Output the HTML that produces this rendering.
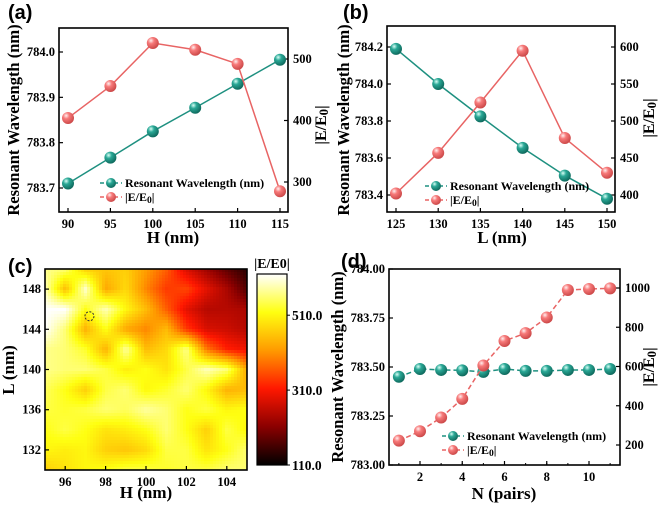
<!DOCTYPE html>
<html><head><meta charset="utf-8"><style>
body{margin:0;background:#fff;}
svg{display:block;font-family:"Liberation Serif",serif;font-weight:bold;}
.pl{font-family:"Liberation Sans",sans-serif;font-weight:bold;font-size:20px;}
</style></head><body>
<svg id="s" width="664" height="508" viewBox="0 0 664 508" xmlns="http://www.w3.org/2000/svg">
<defs>
<radialGradient id="gt" cx="0.35" cy="0.3" r="0.75"><stop offset="0" stop-color="#d8fff6"/><stop offset="0.35" stop-color="#2aa896"/><stop offset="1" stop-color="#0c6458"/></radialGradient>
<radialGradient id="gr" cx="0.35" cy="0.3" r="0.75"><stop offset="0" stop-color="#fff0f0"/><stop offset="0.35" stop-color="#f77a7a"/><stop offset="1" stop-color="#c84444"/></radialGradient>
<linearGradient id="cb" x1="0" y1="1" x2="0" y2="0">
<stop offset="0" stop-color="#000"/><stop offset="0.2" stop-color="#8a0000"/><stop offset="0.4" stop-color="#ff1800"/><stop offset="0.6" stop-color="#ff9a00"/><stop offset="0.8" stop-color="#ffff10"/><stop offset="1" stop-color="#ffffff"/></linearGradient>
<clipPath id="hc"><rect x="45" y="269" width="202" height="201"/></clipPath>
</defs>
<g id="root"></g>
</svg>
<script>
// Panel (a)
const aH=[90,95,100,105,110,115];
const aWave=[783.71,783.767,783.825,783.877,783.93,783.983];
const aE=[404,456,526,515,492,285];
const aLeftTicks=["783.7","783.8","783.9","784.0"];
const aRightTicks=[300,400,500];
// Panel (b)
const bL=[125,130,135,140,145,150];
const bWave=[784.19,784.0,783.825,783.655,783.505,783.38];
const bE=[402,457,525,595,477,430];
const bLeftTicks=["783.4","783.6","783.8","784.0","784.2"];
const bRightTicks=[400,450,500,550,600];
// Panel (c) heatmap: rows L=150..130 (step 2), cols H=95..105
const cH=[95,96,97,98,99,100,101,102,103,104,105];
const cL=[150,148,146,144,142,140,138,136,134,132,130];
const cVals=[
[570,560,470,460,470,420,370,280,230,180,140],
[590,450,600,430,480,400,340,350,290,240,170],
[620,620,520,590,510,450,370,290,250,250,240],
[620,560,440,520,430,400,450,340,280,270,250],
[570,560,530,440,580,450,480,570,390,320,300],
[570,560,560,540,500,520,490,540,590,560,430],
[550,520,470,540,560,510,530,560,510,440,450],
[540,530,540,560,550,580,560,520,540,510,520],
[520,540,520,490,500,520,560,520,470,540,510],
[510,500,510,470,460,480,540,540,490,520,560],
[470,490,510,520,540,540,530,540,540,560,560]];
const cXTicks=[96,98,100,102,104];
const cYTicks=[132,136,140,144,148];
const cbTicks=["110.0","310.0","510.0"];
// Panel (d)
const dN=[1,2,3,4,5,6,7,8,9,10,11];
const dWave=[783.45,783.49,783.485,783.483,783.475,783.49,783.48,783.48,783.485,783.485,783.49];
const dE=[222,270,340,435,605,730,770,850,990,995,998];
const dLeftTicks=["783.00","783.25","783.50","783.75","784.00"];
const dRightTicks=[200,400,600,800,1000];
const dXTicks=[2,4,6,8,10];

const NS="http://www.w3.org/2000/svg";
const root=document.getElementById('root');
function el(t,a,p){const e=document.createElementNS(NS,t);for(const k in a)e.setAttribute(k,a[k]);(p||root).appendChild(e);return e;}
function txt(x,y,s,size,anchor,p,rot){const e=el('text',{x:x,y:y,'font-size':size,'text-anchor':anchor||'middle'},p);if(rot)e.setAttribute('transform',`rotate(${rot} ${x} ${y})`);e.textContent=s;return e;}
function lin(d0,d1,r0,r1){return v=>r0+(v-d0)/(d1-d0)*(r1-r0);}
function eLabel(x,y,size,p,anchor){const t=el('text',{x:x,y:y,'font-size':size,'text-anchor':anchor||'start'},p);t.innerHTML='|E/E<tspan font-size="'+(size*0.8)+'" dy="2">0</tspan><tspan dy="-2">|</tspan>';return t;}

function box(x0,y0,x1,y1,g){el('rect',{x:x0,y:y0,width:x1-x0,height:y1-y0,fill:'none',stroke:'#000','stroke-width':1.6},g);}
function series(xs,ys,fx,fy,color,grad,r,dash,g,name){
  const sg=el('g',{},g);
  
  
  const pts=xs.map((x,i)=>fx(x)+','+fy(ys[i])).join(' ');
  const pl=el('polyline',{points:pts,fill:'none',stroke:color,'stroke-width':1.5},sg);
  if(dash)pl.setAttribute('stroke-dasharray',dash);
  xs.forEach((x,i)=>{const c=el('circle',{cx:fx(x),cy:fy(ys[i]),r:r,fill:'url(#'+grad+')'},sg);
    
    });
}
function legend(x,y,g){
  const lg=el('g',{},g);
  
  
  [['#1e9080','gt','Resonant Wavelength (nm)'],['#e86464','gr',null]].forEach((it,i)=>{
    const yy=y+i*14;
    el('line',{x1:x,y1:yy,x2:x+22,y2:yy,stroke:it[0],'stroke-width':1.5,'stroke-dasharray':'4,3'},lg);
    el('circle',{cx:x+11,cy:yy,r:5,fill:'url(#'+it[1]+')'},lg);
    if(it[2])txt(x+25,yy+4,it[2],12,'start',lg);else eLabel(x+25,yy+4,12,lg);
  });
}
function tickLeft(x,y,lab,g){el('line',{x1:x,y1:y,x2:x+4,y2:y,stroke:'#000','stroke-width':1.2},g);txt(x-4,y+4,lab,12.5,'end',g);}
function tickRight(x,y,lab,g){el('line',{x1:x,y1:y,x2:x-4,y2:y,stroke:'#000','stroke-width':1.2},g);txt(x+5,y+4,lab,12.5,'start',g);}
function tickBot(x,y,lab,g){el('line',{x1:x,y1:y,x2:x,y2:y-4,stroke:'#000','stroke-width':1.2},g);txt(x,y+16,lab,12.5,'middle',g);}

// ---- Panel a
(function(){
  const g=el('g',{});
  const X0=59,X1=288,Y0=28,Y1=212;
  const fx=lin(90,115,68,280), fy=lin(783.7,784.0,188,52), fr=lin(300,500,182,59);
  txt(8,19,'(a)',20,'start',g).setAttribute('class','pl');
  box(X0,Y0,X1,Y1,g);
  aH.forEach(v=>tickBot(fx(v),Y1,v,g));
  aLeftTicks.forEach(v=>tickLeft(X0,fy(+v),v,g));
  aRightTicks.forEach(v=>tickRight(X1,fr(v),v,g));
  txt(173,243,'H (nm)',17,'middle',g);
  txt(19,120,'Resonant Wavelength (nm)',16.5,'middle',g,-90);
  eLabel(326,125,16,g,'middle').setAttribute('transform','rotate(-90 326 125)');
  series(aH,aWave,fx,fy,'#1e9080','gt',6,null,g,'wavelength-series');
  series(aH,aE,fx,fr,'#e86464','gr',6,null,g,'field-series');
  legend(100,183,g);
})();
// ---- Panel b
(function(){
  const g=el('g',{});
  const X0=387,X1=615,Y0=26,Y1=212;
  const fx=lin(125,150,396,607), fy=lin(783.4,784.2,195,47), fr=lin(400,600,195,47);
  txt(343,19,'(b)',20,'start',g).setAttribute('class','pl');
  box(X0,Y0,X1,Y1,g);
  bL.forEach(v=>tickBot(fx(v),Y1,v,g));
  bLeftTicks.forEach(v=>tickLeft(X0,fy(+v),v,g));
  bRightTicks.forEach(v=>tickRight(X1,fr(v),v,g));
  txt(502,243,'L (nm)',17,'middle',g);
  txt(349,120,'Resonant Wavelength (nm)',16.5,'middle',g,-90);
  eLabel(654,118,16,g,'middle').setAttribute('transform','rotate(-90 654 118)');
  series(bL,bWave,fx,fy,'#1e9080','gt',6,null,g,'wavelength-series');
  series(bL,bE,fx,fr,'#e86464','gr',6,null,g,'field-series');
  legend(425,186,g);
})();
// ---- Panel c
function cmap(v){
  const stops=[[110,[0,0,0]],[212,[138,0,0]],[314,[255,24,0]],[416,[255,154,0]],[518,[255,255,16]],[620,[255,255,255]]];
  if(v<=110)return 'rgb(0,0,0)';if(v>=620)return 'rgb(255,255,255)';
  for(let i=0;i<stops.length-1;i++){const a=stops[i],b=stops[i+1];if(v<=b[0]){const t=(v-a[0])/(b[0]-a[0]);return 'rgb('+a[1].map((c,j)=>Math.round(c+(b[1][j]-c)*t)).join(',')+')';}}
}
(function(){
  const g=el('g',{});
  const X0=45,X1=247,Y0=269,Y1=470;
  const fx=lin(95,105,X0,X1), fy=lin(130,150,Y1,Y0);
  txt(8,273,'(c)',20,'start',g).setAttribute('class','pl');
  const hm=el('g',{'clip-path':'url(#hc)'},g);
  
  
  const step=3;
  const nr=cL.length,nc=cH.length;
  for(let px=X0;px<X1;px+=step){for(let py=Y0;py<Y1;py+=step){
    const h=95+(px+step/2-X0)/(X1-X0)*10, l=130+(Y1-(py+step/2))/(Y1-Y0)*20;
    const cf=Math.min(nc-1.0001,Math.max(0,h-cH[0])), rf=Math.min(nr-1.0001,Math.max(0,(cL[0]-l)/2));
    const c0=Math.floor(cf),r0=Math.floor(rf),tx=cf-c0,ty=rf-r0;
    const v=cVals[r0][c0]*(1-tx)*(1-ty)+cVals[r0][c0+1]*tx*(1-ty)+cVals[r0+1][c0]*(1-tx)*ty+cVals[r0+1][c0+1]*tx*ty;
    el('rect',{x:px,y:py,width:step+0.5,height:step+0.5,fill:cmap(v)},hm);
  }}
  box(X0,Y0,X1,Y1,g);
  cXTicks.forEach(v=>tickBot(fx(v),Y1,v,g));
  cYTicks.forEach(v=>tickLeft(X0,fy(v),v,g));
  txt(146,498,'H (nm)',17,'middle',g);
  txt(14,370,'L (nm)',17,'middle',g,-90);
  el('circle',{cx:fx(97.2),cy:fy(145.3),r:4.5,fill:'none',stroke:'#333','stroke-dasharray':'2,1.5','stroke-width':1},g);
  const cbg=el('g',{},g);
  el('rect',{x:257,y:274,width:30,height:191,fill:'url(#cb)',stroke:'#000','stroke-width':1.2},cbg);
  const fc=lin(110,620,465,274);
  cbTicks.forEach(v=>{el('line',{x1:287,y1:fc(+v),x2:290,y2:fc(+v),stroke:'#000'},cbg);txt(292,fc(+v)+5,v,13.5,'start',cbg);});
  txt(272,268,'|E/E0|',14,'middle',cbg);
})();
// ---- Panel d
(function(){
  const g=el('g',{});
  const X0=389,X1=620,Y0=269,Y1=465;
  const fx=lin(2,10,420,589), fy=lin(783,784,465,269), fr=lin(200,1000,445,288);
  txt(341,268,'(d)',20,'start',g).setAttribute('class','pl');
  box(X0,Y0,X1,Y1,g);
  dXTicks.forEach(v=>tickBot(fx(v),Y1,v,g));
  dN.forEach(v=>el('line',{x1:fx(v),y1:Y1,x2:fx(v),y2:Y1-2,stroke:'#000'},g));
  dLeftTicks.forEach(v=>tickLeft(X0,fy(+v),v,g));
  dRightTicks.forEach(v=>tickRight(X1,fr(v),v,g));
  txt(504,499,'N (pairs)',17,'middle',g);
  txt(343,367,'Resonant Wavelength (nm)',16.5,'middle',g,-90);
  eLabel(654,367,16,g,'middle').setAttribute('transform','rotate(-90 654 367)');
  series(dN,dWave,fx,fy,'#1e9080','gt',6,'5,3',g,'wavelength-series');
  series(dN,dE,fx,fr,'#e86464','gr',6,'5,3',g,'field-series');
  legend(442,436,g);
})();
</script>
</body></html>
